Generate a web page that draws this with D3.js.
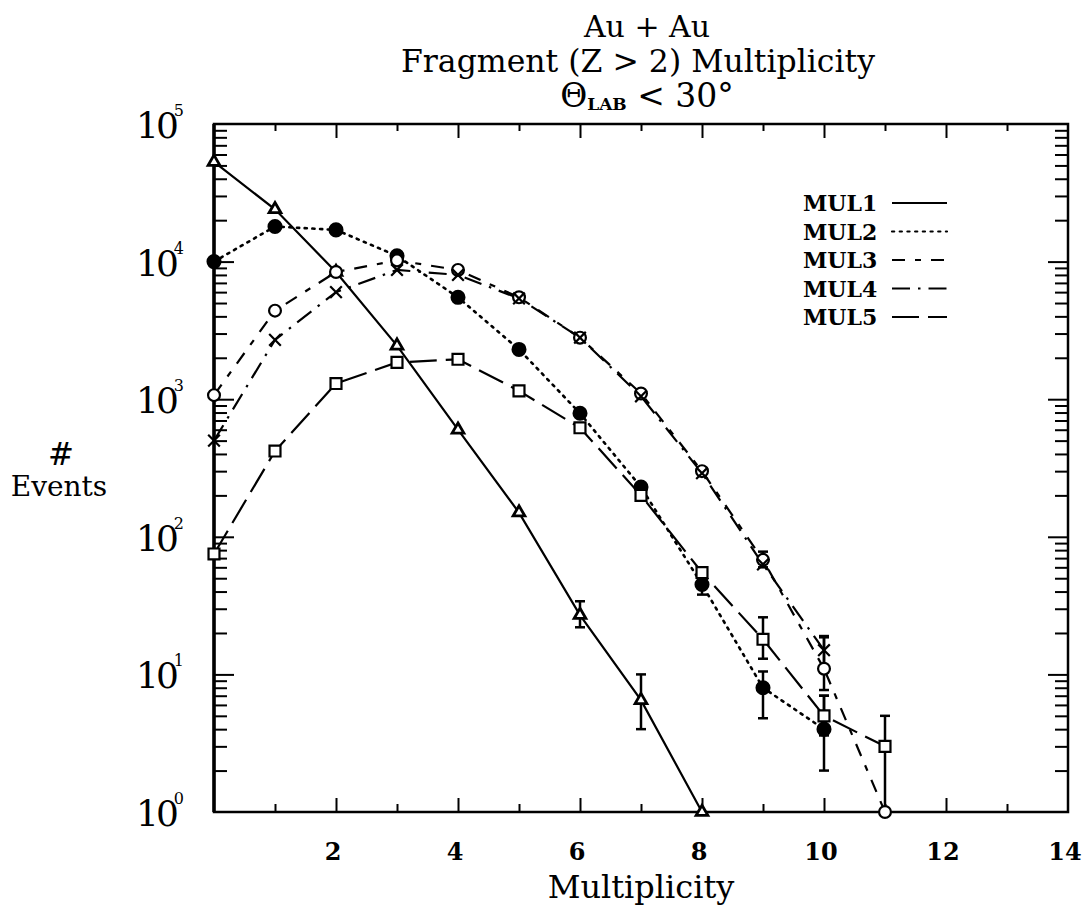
<!DOCTYPE html>
<html>
<head>
<meta charset="utf-8">
<script src="https://cdn.jsdelivr.net/npm/d3@7"></script>
<style>
  body { margin: 0; background: #fff; }
  svg { display: block; }
  text { font-family: "DejaVu Serif", "Liberation Serif", serif; fill: #000; }
</style>
</head>
<body>
<svg id="chart" width="1082" height="923"></svg>
<script>
// Fragment multiplicity bins
const multiplicity = [0, 1, 2, 3, 4, 5, 6, 7, 8, 9, 10, 11];

// Event counts per multiplicity bin, one array per trigger class
const mul1 = [53000, 24000, 8400, 2450, 600, 150, 27, 6.5, 1];
const mul2 = [10000, 18000, 17000, 11000, 5500, 2300, 790, 230, 45, 8, 4];
const mul3 = [1070, 4400, 8400, 10200, 8700, 5500, 2800, 1100, 300, 68, 11, 1];
const mul4 = [500, 2700, 6000, 8700, 8000, 5400, 2800, 1050, 290, 63, 15];
const mul5 = [75, 420, 1300, 1850, 1950, 1150, 620, 200, 55, 18, 5, 3];

// Error ranges [low, high] (null where the bar is hidden by the marker)
const mul1Err = [null, null, null, null, null, null, [22, 34], [4, 10], null];
const mul2Err = [null, null, null, null, null, null, null, null, [38, 53], [4.8, 10.5], [2, 7]];
const mul3Err = [null, null, null, null, null, null, null, null, null, [60, 78], [7.7, 18.6], null];
const mul4Err = [null, null, null, null, null, null, null, null, null, null, [11, 19]];
const mul5Err = [null, null, null, null, null, null, null, null, null, [13, 26], [3.6, 7], [1, 5]];

const seriesNames = ["MUL1", "MUL2", "MUL3", "MUL4", "MUL5"];

// Axis tick values
const xMajorTicks = [2, 4, 6, 8, 10, 12, 14];
const xMinorTicks = [1, 3, 5, 7, 9, 11, 13];
const yDecades = [1, 10, 100, 1000, 10000, 100000];
const yExponents = ["0", "1", "2", "3", "4", "5"];

const svg = d3.select("#chart");

const x = d3.scaleLinear().domain([0, 14]).range([214, 1068]);
const y = d3.scaleLog().domain([1, 1e5]).range([812, 124]);

const series = [
  { name: seriesNames[0], values: mul1, err: mul1Err, dash: null, marker: "triangle" },
  { name: seriesNames[1], values: mul2, err: mul2Err, dash: "2.2,5.5", marker: "dot" },
  { name: seriesNames[2], values: mul3, err: mul3Err, dash: "13,10,6,10", marker: "circle" },
  { name: seriesNames[3], values: mul4, err: mul4Err, dash: "18,8,2.5,8", marker: "x" },
  { name: seriesNames[4], values: mul5, err: mul5Err, dash: "27,9", marker: "square" }
];

// Frame
svg.append("rect")
  .attr("x", x(0)).attr("y", y(1e5))
  .attr("width", x(14) - x(0)).attr("height", y(1) - y(1e5))
  .attr("fill", "none").attr("stroke", "#000").attr("stroke-width", 2.5);

// Inward ticks on all four sides
const yMinor = [];
for (let d = 0; d < 5; d++) for (let k = 2; k <= 9; k++) yMinor.push(k * Math.pow(10, d));

function styleAxis(g) {
  g.select(".domain").remove();
  g.selectAll(".tick line").attr("stroke", "#000").attr("stroke-width", 2);
  g.selectAll(".tick text").remove();
}

svg.append("g").attr("transform", `translate(0,${y(1)})`)
  .call(d3.axisBottom(x).tickValues(xMajorTicks.slice(0, -1)).tickSizeInner(-14)).call(styleAxis);
svg.append("g").attr("transform", `translate(0,${y(1)})`)
  .call(d3.axisBottom(x).tickValues(xMinorTicks).tickSizeInner(-8)).call(styleAxis);
svg.append("g").attr("transform", `translate(0,${y(1e5)})`)
  .call(d3.axisTop(x).tickValues(xMajorTicks.slice(0, -1)).tickSizeInner(-14)).call(styleAxis);
svg.append("g").attr("transform", `translate(0,${y(1e5)})`)
  .call(d3.axisTop(x).tickValues(xMinorTicks).tickSizeInner(-7)).call(styleAxis);

svg.append("g").attr("transform", `translate(${x(0)},0)`)
  .call(d3.axisLeft(y).tickValues(yDecades.slice(1, -1)).tickSizeInner(-20)).call(styleAxis);
svg.append("g").attr("transform", `translate(${x(0)},0)`)
  .call(d3.axisLeft(y).tickValues(yMinor).tickSizeInner(-13)).call(styleAxis);
svg.append("g").attr("transform", `translate(${x(14)},0)`)
  .call(d3.axisRight(y).tickValues(yDecades.slice(1, -1)).tickSizeInner(-20)).call(styleAxis);
svg.append("g").attr("transform", `translate(${x(14)},0)`)
  .call(d3.axisRight(y).tickValues(yMinor).tickSizeInner(-13)).call(styleAxis);

// Thicker left spine
svg.append("line")
  .attr("x1", x(0)).attr("x2", x(0)).attr("y1", y(1e5)).attr("y2", y(1))
  .attr("stroke", "#000").attr("stroke-width", 3.5);

// X tick labels
svg.append("g").selectAll("text").data(xMajorTicks).join("text")
  .attr("x", d => x(d) - 3).attr("y", 860)
  .attr("text-anchor", "middle")
  .attr("font-weight", "bold").attr("font-size", 24)
  .text(d => d);

// Y tick labels: 10 with exponent
const yLab = svg.append("g").selectAll("text").data(yDecades).join("text")
  .attr("x", 136).attr("y", d => y(d) + 14)
  .attr("font-size", 36);
yLab.append("tspan").text("10").attr("letter-spacing", -3);
yLab.append("tspan").text((d, i) => yExponents[i])
  .attr("font-size", 16).attr("dy", -22).attr("dx", -2);

// Axis titles
svg.append("text").attr("x", 61).attr("y", 465).attr("text-anchor", "middle")
  .attr("font-size", 31).attr("font-style", "italic").text("#");
svg.append("text").attr("x", 59).attr("y", 496).attr("text-anchor", "middle")
  .attr("font-size", 28).text("Events");
svg.append("text").attr("x", 641).attr("y", 898).attr("text-anchor", "middle")
  .attr("font-size", 32).text("Multiplicity");

// Chart title
svg.append("text").attr("x", 647).attr("y", 37).attr("text-anchor", "middle")
  .attr("font-size", 30).text("Au + Au");
svg.append("text").attr("x", 638).attr("y", 72).attr("text-anchor", "middle")
  .attr("font-size", 31.5).text("Fragment (Z > 2) Multiplicity");
const t3 = svg.append("text").attr("x", 647).attr("y", 107).attr("text-anchor", "middle")
  .attr("font-size", 33);
t3.append("tspan").text("\u0398");
t3.append("tspan").text("LAB").attr("font-size", 17).attr("font-weight", "bold").attr("dy", 3);
t3.append("tspan").text(" < 30\u00b0").attr("dy", -3);

// Data lines
const plot = svg.append("g");
const line = d3.line()
  .x((d, i) => x(multiplicity[i]))
  .y(d => y(d));

series.forEach(s => {
  plot.append("path")
    .datum(s.values)
    .attr("d", line)
    .attr("fill", "none")
    .attr("stroke", "#000")
    .attr("stroke-width", s.marker === "dot" ? 2.6 : 2.2)
    .attr("stroke-linecap", s.marker === "dot" ? "round" : "butt")
    .attr("stroke-dasharray", s.dash);
});

// Error bars
series.forEach(s => {
  const eb = plot.append("g");
  s.err.forEach((e, i) => {
    if (!e) return;
    const cx = x(multiplicity[i]);
    eb.append("line").attr("x1", cx).attr("x2", cx)
      .attr("y1", y(e[0])).attr("y2", y(e[1]))
      .attr("stroke", "#000").attr("stroke-width", 2.5);
    [e[0], e[1]].forEach(v => {
      eb.append("line").attr("x1", cx - 5).attr("x2", cx + 5)
        .attr("y1", y(v)).attr("y2", y(v))
        .attr("stroke", "#000").attr("stroke-width", 2.5);
    });
  });
});

// Markers
const symbolFor = {
  triangle: d3.symbol().type(d3.symbolTriangle).size(60),
  dot: d3.symbol().type(d3.symbolCircle).size(130),
  circle: d3.symbol().type(d3.symbolCircle).size(110),
  x: d3.symbol().type(d3.symbolX).size(90),
  square: d3.symbol().type(d3.symbolSquare).size(120)
};

series.forEach(s => {
  plot.append("g").selectAll("path").data(s.values).join("path")
    .attr("transform", (d, i) => `translate(${x(multiplicity[i])},${y(d)})`)
    .attr("d", symbolFor[s.marker])
    .attr("fill", s.marker === "dot" ? "#000" : (s.marker === "x" ? "none" : "#fff"))
    .attr("stroke", "#000")
    .attr("stroke-width", s.marker === "triangle" ? 2.8 : 2.2);
});

// Legend
const legend = svg.append("g");
series.forEach((s, i) => {
  const ly = 211 + i * 28.5;
  legend.append("text").attr("x", 803).attr("y", ly)
    .attr("font-weight", "bold").attr("font-size", 22).text(s.name);
  legend.append("line")
    .attr("x1", 892).attr("x2", 947)
    .attr("y1", ly - 8).attr("y2", ly - 8)
    .attr("stroke", "#000").attr("stroke-width", 2.2)
    .attr("stroke-linecap", s.marker === "dot" ? "round" : "butt")
    .attr("stroke-dasharray", s.dash);
});
</script>
</body>
</html>
